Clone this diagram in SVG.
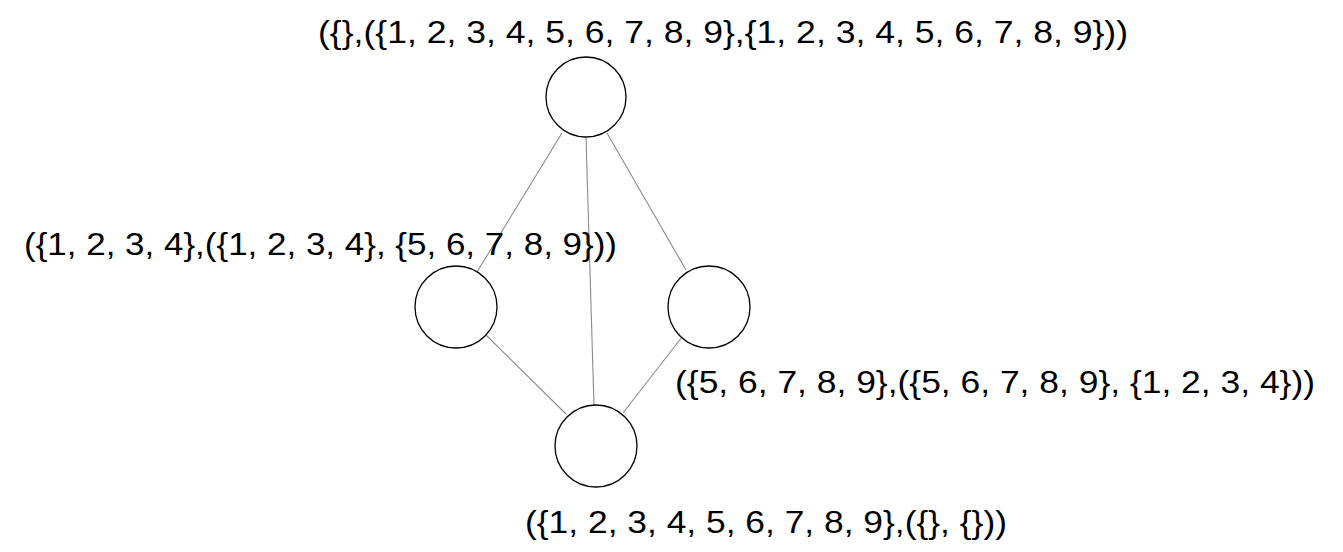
<svg xmlns="http://www.w3.org/2000/svg" width="1343" height="552" viewBox="0 0 1343 552">
<style>
.node circle { fill: #ffffff; stroke: #000000; stroke-width: 1.3; }
.edge { stroke: #8a8a8a; stroke-width: 1.1; fill: none; }
.lbl { font-family: "Liberation Sans", Arial, Helvetica, sans-serif; font-size: 31.5px; fill: #000000; }
</style>
<rect width="1343" height="552" fill="#ffffff"/>
<g id="connectors">
<line class="edge" x1="562" y1="133" x2="477" y2="272"/>
<line class="edge" x1="586" y1="138" x2="594" y2="405"/>
<line class="edge" x1="607" y1="133" x2="686" y2="270"/>
<line class="edge" x1="485" y1="334" x2="566" y2="414"/>
<line class="edge" x1="682" y1="337" x2="623" y2="413"/>
</g>
<g id="node-top" class="node">
<circle cx="586" cy="97" r="40"/>
<text class="lbl" x="318" y="43" textLength="810" lengthAdjust="spacingAndGlyphs">({},({1, 2, 3, 4, 5, 6, 7, 8, 9},{1, 2, 3, 4, 5, 6, 7, 8, 9}))</text>
</g>
<g id="node-left" class="node">
<circle cx="456" cy="307" r="41"/>
<text class="lbl" x="24" y="255" textLength="593" lengthAdjust="spacingAndGlyphs">({1, 2, 3, 4},({1, 2, 3, 4}, {5, 6, 7, 8, 9}))</text>
</g>
<g id="node-right" class="node">
<circle cx="709" cy="307" r="41"/>
<text class="lbl" x="675" y="393" textLength="640" lengthAdjust="spacingAndGlyphs">({5, 6, 7, 8, 9},({5, 6, 7, 8, 9}, {1, 2, 3, 4}))</text>
</g>
<g id="node-bottom" class="node">
<circle cx="596" cy="446" r="41"/>
<text class="lbl" x="525" y="533" textLength="482" lengthAdjust="spacingAndGlyphs">({1, 2, 3, 4, 5, 6, 7, 8, 9},({}, {}))</text>
</g>
</svg>
